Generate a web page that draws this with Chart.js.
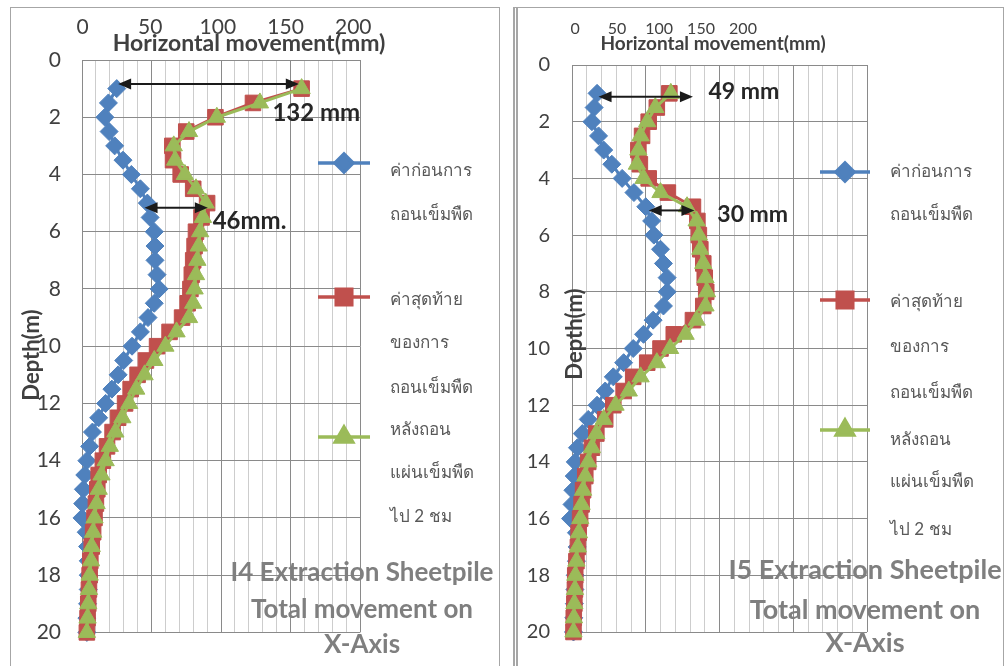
<!DOCTYPE html>
<html>
<head>
<meta charset="utf-8">
<script src="https://cdn.jsdelivr.net/npm/chart.js@4.4.1/dist/chart.umd.min.js"></script>
<style>
  html, body { margin: 0; padding: 0; background: #fff; }
  body { width: 1006px; height: 666px; position: relative; overflow: hidden; }
  .frame { position: absolute; top: 7px; height: 700px; border: 1px solid #a6a6a6; box-sizing: border-box; }
  #frameL { left: 10px; width: 490px; }
  #frameR { left: 513px; width: 491px; border-left: 5px double #a6a6a6; }
  canvas { position: absolute; top: 0; }
  #chartL { left: 0; }
  #chartR { left: 503px; }
</style>
</head>
<body>
<div class="frame" id="frameL"></div>
<div class="frame" id="frameR"></div>
<canvas id="chartL" width="503" height="666"></canvas>
<canvas id="chartR" width="503" height="666"></canvas>
<script>
// depth of each reading (m)
const depths = [1, 1.5, 2, 2.5, 3, 3.5, 4, 4.5, 5, 5.5, 6, 6.5, 7, 7.5, 8, 8.5, 9, 9.5, 10, 10.5,
    11, 11.5, 12, 12.5, 13, 13.5, 14, 14.5, 15, 15.5, 16, 16.5, 17, 17.5, 18, 18.5, 19, 19.5, 20];

// series names, split the way the legend wraps them
const seriesNames = [
    ['ค่าก่อนการ', 'ถอนเข็มพืด'],
    ['ค่าสุดท้าย', 'ของการ', 'ถอนเข็มพืด'],
    ['หลังถอน', 'แผ่นเข็มพืด', 'ไป 2 ชม']
];

// I4 horizontal movement (mm)
const i4Before = [25, 19, 16.5, 19.5, 23.5, 29.5, 35.5, 42, 47, 49, 52, 52.5, 52.5, 54, 55.5, 52, 47.5, 42, 36, 30,
    26, 21.5, 17, 12, 7.5, 5.5, 3.5, 2, 1, 0.5, 0, 3, 4, 4.5, 4.5, 4.5, 4, 3.5, 3.5];
const i4Final = [158, 123, 96, 75, 65, 65.5, 71, 80, 90, 86, 82, 81, 80, 79, 78, 76, 72, 63, 54, 46,
    40, 35, 31, 26, 22, 18, 15, 12, 11, 10, 9, 8, 7, 6, 5.5, 5, 4.5, 4, 3.5];
const i4After = [158, 128, 97, 77, 66, 67, 74, 82, 89, 87, 85, 84, 83, 82, 81, 80, 77, 68, 60, 52,
    45, 39, 34, 29, 24, 20, 17, 14, 12, 10.5, 9, 8, 7, 6.5, 5.5, 5, 4.5, 4, 3.5];

// I5 horizontal movement (mm)
const i5Before = [17, 15, 13.5, 18, 21.5, 27, 34, 42, 50, 54, 55.5, 60, 62, 64.5, 64.5, 62, 55, 48.5, 41.5, 35,
    28, 22.5, 17, 11, 7, 3.7, 2.2, 1.5, 0.6, 0, -1, 3, 3.5, 3, 2.2, 2, 1.6, 1.2, 1];
const i5Final = [66, 57.5, 52, 47.5, 45, 46, 52, 65, 82, 85, 86, 87, 89, 90, 91, 89, 82, 69, 60, 51,
    41.5, 35, 28, 22.5, 16.5, 13.5, 11, 9, 7.5, 6.5, 5.5, 4.5, 4, 3, 2.2, 2, 1.6, 1.2, 1];
const i5After = [67, 56.5, 51, 46.5, 45, 44, 48.5, 60, 78, 84.5, 86, 87, 89, 90.5, 91.5, 90.5, 84.5, 77, 66.5, 57.5,
    46.5, 38.5, 29.5, 21.5, 16.5, 13.5, 11, 9, 7.5, 6.5, 5.6, 4.7, 3.9, 3, 2.3, 2, 1.6, 1.3, 1];

// axes
const xTickLabels = [0, 50, 100, 150, 200];
const xGridValues = [0, 10, 20, 30, 40, 50, 60, 70, 80, 90, 100, 110, 120, 130, 140, 150, 160, 170, 180, 190, 200];
const depthTicks = [0, 2, 4, 6, 8, 10, 12, 14, 16, 18, 20];
const xTitle = 'Horizontal movement(mm)';
const yTitle = 'Depth(m)';

// difference arrows and their labels
const i4Arrows = [{depth: 0.84, from: 26, to: 156}, {depth: 5.16, from: 45, to: 90.5}];
const i4Notes = [{text: '132 mm', x: 137, depth: 1.87}, {text: '46mm.', x: 94, depth: 5.62}];
const i5Arrows = [{depth: 1.12, from: 18, to: 82}, {depth: 5.13, from: 52, to: 83}];
const i5Notes = [{text: '49 mm', x: 92.5, depth: 0.93}, {text: '30 mm', x: 98.5, depth: 5.26}];

const i4Caption = ['I4 Extraction Sheetpile', 'Total movement on', 'X-Axis'];
const i5Caption = ['I5 Extraction Sheetpile', 'Total movement on', 'X-Axis'];

const colors = ['#4F81BD', '#C0504D', '#9BBB59'];
const styles = [
    {pointStyle: 'rectRot', radius: 9},
    {pointStyle: 'rect', radius: 11},
    {pointStyle: 'triangle', radius: 10}
];

function arrowHead(ctx, tipX, py, dir) {
    ctx.beginPath();
    ctx.moveTo(tipX, py);
    ctx.lineTo(tipX + dir * 13, py - 5.5);
    ctx.lineTo(tipX + dir * 13, py + 5.5);
    ctx.closePath();
    ctx.fill();
}

const panelText = {
    id: 'panelText',
    afterDatasetsDraw(chart, args, o) {
        const {ctx, scales: {x, y}} = chart;
        ctx.save();
        // arrows
        ctx.strokeStyle = '#1a1a1a';
        ctx.fillStyle = '#1a1a1a';
        ctx.lineWidth = 2;
        o.arrows.forEach(a => {
            const py = y.getPixelForValue(a.depth);
            const x1 = x.getPixelForValue(a.from);
            const x2 = x.getPixelForValue(a.to);
            ctx.beginPath();
            ctx.moveTo(x1 + 10, py);
            ctx.lineTo(x2 - 10, py);
            ctx.stroke();
            arrowHead(ctx, x1, py, 1);
            arrowHead(ctx, x2, py, -1);
        });
        ctx.font = 'bold ' + o.noteSize + 'px Lato';
        ctx.fillStyle = '#262626';
        ctx.textAlign = 'left';
        ctx.textBaseline = 'middle';
        o.notes.forEach(n => {
            ctx.fillText(n.text, x.getPixelForValue(n.x), y.getPixelForValue(n.depth));
        });

        // axis titles
        ctx.fillStyle = '#404040';
        ctx.textAlign = 'center';
        ctx.font = 'bold ' + o.xTitle.size + 'px Lato';
        ctx.fillText(xTitle, o.xTitle.cx, o.xTitle.cy);
        ctx.save();
        ctx.translate(o.yTitle.cx, o.yTitle.cy);
        ctx.rotate(-Math.PI / 2);
        ctx.font = 'bold ' + o.yTitle.size + 'px Lato';
        ctx.fillText(yTitle, 0, 0);
        ctx.restore();

        // caption
        ctx.fillStyle = '#7f7f7f';
        ctx.font = 'bold ' + o.caption.size + 'px Lato';
        o.caption.lines.forEach((t, i) => ctx.fillText(t, o.caption.cx, o.caption.ys[i]));

        // legend
        const lg = o.legend;
        chart.data.datasets.forEach((ds, i) => {
            const my = lg.markerY[i];
            ctx.strokeStyle = ds.borderColor;
            ctx.lineWidth = 3.5;
            ctx.beginPath();
            ctx.moveTo(lg.x0, my);
            ctx.lineTo(lg.x1, my);
            ctx.stroke();
            ctx.fillStyle = ds.backgroundColor;
            Chart.helpers.drawPoint(ctx, {pointStyle: ds.pointStyle, radius: ds.pointRadius, rotation: 0, borderWidth: 1},
                (lg.x0 + lg.x1) / 2, my);
            ctx.fillStyle = '#595959';
            ctx.font = lg.size + 'px Lato, "Noto Sans", sans-serif';
            ctx.textAlign = 'left';
            seriesNames[i].forEach((t, j) => ctx.fillText(t, lg.textX, lg.lineY[i][j]));
        });
        ctx.restore();
    }
};

function makeChart(id, values, arrows, notes, caption, p) {
    const datasets = values.map((vals, i) => ({
        label: seriesNames[i].join(''),
        data: depths.map((d, k) => ({x: vals[k], y: d})),
        borderColor: colors[i],
        backgroundColor: colors[i],
        pointBorderColor: colors[i],
        pointStyle: styles[i].pointStyle,
        pointRadius: styles[i].radius,
        pointBorderWidth: 1,
        borderWidth: 3,
        showLine: true,
        clip: false,
        order: 3 - i
    }));

    return new Chart(document.getElementById(id), {
        type: 'scatter',
        data: {datasets: datasets},
        plugins: [panelText],
        options: {
            responsive: false,
            animation: false,
            layout: {padding: {top: 0, left: 0, right: p.padRight, bottom: p.padBottom}},
            plugins: {
                legend: {display: false},
                tooltip: {enabled: false},
                panelText: {
                    arrows: arrows,
                    notes: notes,
                    noteSize: p.noteSize,
                    xTitle: p.xTitle,
                    yTitle: p.yTitle,
                    caption: {lines: caption, cx: p.captionX, ys: p.captionY, size: p.captionSize},
                    legend: p.legend
                }
            },
            scales: {
                x: {
                    type: 'linear', position: 'top', min: 0, max: 200,
                    afterBuildTicks: s => { s.ticks = xGridValues.map(v => ({value: v})); },
                    afterFit: s => { s.height = 0; },
                    ticks: {display: false},
                    grid: {
                        drawTicks: false,
                        color: c => (c.tick && c.tick.value % 50 === 0) ? '#8a8a8a' : '#cdcdcd'
                    },
                    border: {display: true, color: '#8a8a8a'}
                },
                xl: {
                    type: 'linear', position: 'top', weight: 1, min: p.labelMin, max: p.labelMax,
                    afterBuildTicks: s => { s.ticks = xTickLabels.map(v => ({value: v})); },
                    afterFit: s => { s.height = p.topHeight; },
                    grid: {display: false, drawTicks: false},
                    border: {display: false},
                    ticks: {
                        autoSkip: false, maxRotation: 0, padding: p.xTickPad, color: '#404040',
                        font: {family: 'Lato', size: p.xTickSize, lineHeight: 1}
                    }
                },
                y: {
                    type: 'linear', position: 'left', reverse: true, min: 0, max: 20,
                    afterBuildTicks: s => { s.ticks = depthTicks.map(v => ({value: v})); },
                    afterFit: s => { s.width = p.leftWidth; },
                    grid: {drawTicks: false, color: '#8a8a8a'},
                    border: {color: '#8a8a8a'},
                    ticks: {
                        autoSkip: false, padding: p.yTickPad, color: '#404040',
                        font: {family: 'Lato', size: p.yTickSize}
                    }
                }
            }
        }
    });
}

makeChart('chartL', [i4Before, i4Final, i4After], i4Arrows, i4Notes, i4Caption, {
    padRight: 143, padBottom: 12, topHeight: 60, leftWidth: 82,
    labelMin: -0.4, labelMax: 205, xTickPad: 22, xTickSize: 21, yTickPad: 21, yTickSize: 21,
    noteSize: 24,
    xTitle: {cx: 249, cy: 44, size: 23},
    yTitle: {cx: 32, cy: 355, size: 22},
    captionX: 362, captionY: [573, 610, 645], captionSize: 26,
    legend: {x0: 318, x1: 370, textX: 390, size: 17, markerY: [163, 297, 437],
        lineY: [[171, 215], [300, 343, 388], [430, 473, 517]]}
});

makeChart('chartR', [i5Before, i5Final, i5After], i5Arrows, i5Notes, i5Caption, {
    padRight: 139, padBottom: 23, topHeight: 65, leftWidth: 69,
    labelMin: -3.7, labelMax: 347.7, xTickPad: 28, xTickSize: 16, yTickPad: 22, yTickSize: 20,
    noteSize: 23,
    xTitle: {cx: 210, cy: 44, size: 19},
    yTitle: {cx: 72, cy: 334, size: 22},
    captionX: 362, captionY: [570, 610, 643], captionSize: 27,
    legend: {x0: 317, x1: 367, textX: 387, size: 17, markerY: [172, 300, 430],
        lineY: [[172, 215], [302, 347, 393], [440, 482, 530]]}
});
</script>
</body>
</html>
